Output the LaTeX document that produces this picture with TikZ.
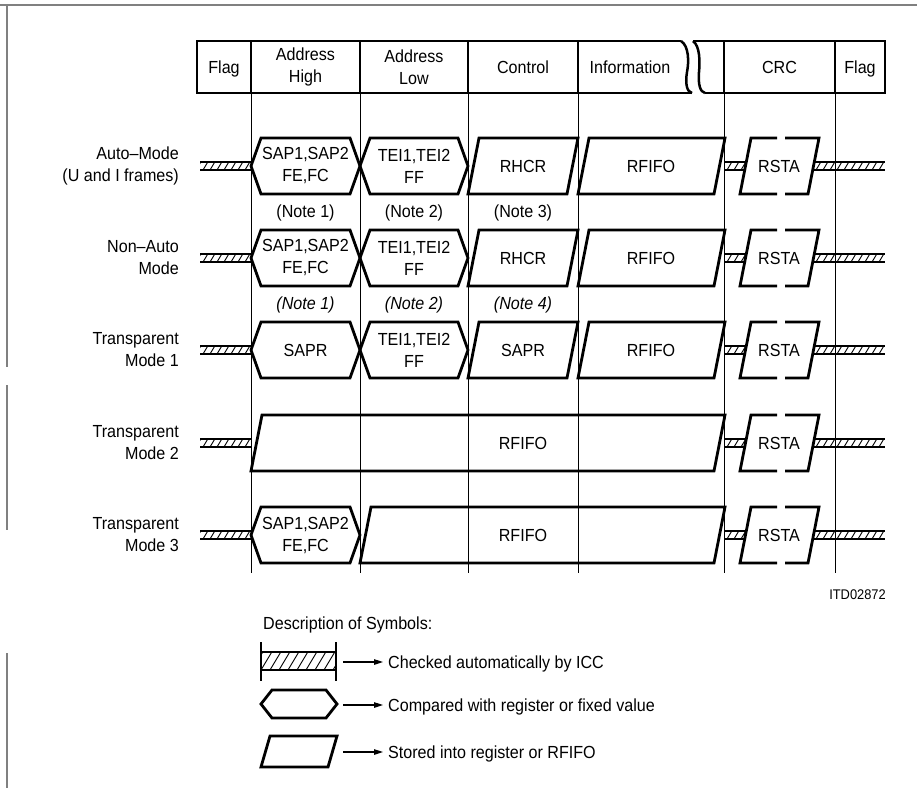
\documentclass[tikz,border=0pt]{standalone}
\usepackage{fontspec}
\setmainfont{Liberation Sans}[FakeStretch=0.92]
\usetikzlibrary{arrows.meta}
\tikzset{
  shp/.style={line width=2.8pt, line join=miter},
  hdr/.style={line width=2.5pt},
  grid/.style={line width=1pt},
  hatchl/.style={line width=0.9pt},
  bandl/.style={line width=2.2pt},
  lbl/.style={font=\fontsize{17.5}{22}\selectfont, align=center, inner sep=0pt},
  one/.style={lbl, text height=12.6pt, text depth=0pt},
  notei/.style={one, font=\fontsize{17.5}{22}\selectfont\itshape},
  frame/.style={gray, line width=1.3pt},
  legarrow/.style={line width=1.1pt, -{Triangle[length=9pt,width=5.5pt]}, shorten >=5pt}
}
% hatched band: x1, x2, yc, half height, spacing
\newcommand\myhband[5]{%
  \begin{scope}
    \clip (#1,#3-#4) rectangle (#2,#3+#4);
    \foreach \k in {0,...,20} {\draw[hatchl] ({#1+\k*#5-#4},#3+#4) -- ++({1.2*#4},{-2*#4});}
  \end{scope}
  \draw[bandl] (#1,#3-#4) -- (#2,#3-#4) (#1,#3+#4) -- (#2,#3+#4);}
% hexagon: x1, x2, yc
\newcommand\myhex[3]{%
  \draw[shp] (#1,#3) -- (#1+10,#3-28) -- (#2-10,#3-28) -- (#2,#3) -- (#2-10,#3+28) -- (#1+10,#3+28) -- cycle;}
% parallelogram: x1, x2, yc
\newcommand\mypar[3]{%
  \draw[shp] (#1,#3+28) -- (#1+11,#3-28) -- (#2,#3-28) -- (#2-11,#3+28) -- cycle;}
% RSTA with bands: yc, node name
\newcommand\mycrc[2]{%
  \myhband{724}{746}{#1}{4}{7}
  \myhband{813}{885}{#1}{4}{7}
  \draw[shp] (777,#1-28) -- (751,#1-28) -- (740,#1+28) -- (777,#1+28);
  \draw[shp] (785,#1-28) -- (819,#1-28) -- (808,#1+28) -- (785,#1+28);
  \node[one] (#2) at (779,#1) {RSTA};}

\begin{document}
\begin{tikzpicture}[x=1pt,y=-1pt]
\useasboundingbox (0,0) rectangle (917,788);

% outer frame pieces
\draw[frame] (0,5) -- (917,5);
\draw[frame] (7,5) -- (7,367) (7,385) -- (7,530) (7,653) -- (7,788);

% header
\draw[hdr] (681,41) -- (197,41) -- (197,93) -- (692,93);
\draw[hdr] (681,41) .. controls (689,46) and (689,62) .. (687,72) .. controls (685,84) and (687,92) .. (692,93);
\draw[hdr] (693,41) .. controls (700,46) and (700,62) .. (699,72) .. controls (698,84) and (700,92) .. (705,93);
\draw[hdr] (693,41) -- (885,41) -- (885,93) -- (705,93);
\foreach \x in {251,360,468,578,724,835} {\draw[hdr] (\x,41) -- (\x,93);}
\node[one] (hflag1) at (224,67) {Flag};
\node[lbl] (hah) at (305.5,67) {Address\\High};
\node[lbl] (hal) at (414,67) {Address\\Low};
\node[one] (hctl) at (523,67) {Control};
\node[one] (hinf) at (630,67) {Information};
\node[one] (hcrc) at (779.5,67) {CRC};
\node[one] (hflag2) at (860,67) {Flag};

% grid lines
\foreach \x in {251,360,468,578,724,835} {\draw[grid] (\x,93) -- (\x,573);}

% row labels
\node[lbl, align=right, anchor=east] (m1) at (179,166) {Auto–Mode\\(U and I frames)};
\node[lbl, align=right, anchor=east] (m2) at (179,258) {Non–Auto\\Mode};
\node[lbl, align=right, anchor=east] (m3) at (179,350) {Transparent\\Mode 1};
\node[lbl, align=right, anchor=east] (m4) at (179,443) {Transparent\\Mode 2};
\node[lbl, align=right, anchor=east] (m5) at (179,535) {Transparent\\Mode 3};

% left flag bands
\myhband{200}{251}{166}{4}{7}
\myhband{200}{251}{258}{4}{7}
\myhband{200}{251}{350}{4}{7}
\myhband{200}{251}{443}{4}{7}
\myhband{200}{251}{535}{4}{7}

% row 1
\myhex{251}{360}{166}
\myhex{360}{468}{166}
\mypar{468}{578}{166}
\mypar{578}{725}{166}
\node[lbl] (r1a) at (305.5,166) {SAP1,SAP2\\FE,FC};
\node[lbl] (r1b) at (414,166) {TEI1,TEI2\\FF};
\node[one] (r1c) at (523,166) {RHCR};
\node[one] (r1d) at (651,166) {RFIFO};
\mycrc{166}{r1e}
\node[one] (n11) at (305.5,211) {(Note 1)};
\node[one] (n12) at (414,211) {(Note 2)};
\node[one] (n13) at (523,211) {(Note 3)};

% row 2
\myhex{251}{360}{258}
\myhex{360}{468}{258}
\mypar{468}{578}{258}
\mypar{578}{725}{258}
\node[lbl] (r2a) at (305.5,258) {SAP1,SAP2\\FE,FC};
\node[lbl] (r2b) at (414,258) {TEI1,TEI2\\FF};
\node[one] (r2c) at (523,258) {RHCR};
\node[one] (r2d) at (651,258) {RFIFO};
\mycrc{258}{r2e}
\node[notei] (n21) at (305.5,303) {(Note 1)};
\node[notei] (n22) at (414,303) {(Note 2)};
\node[notei] (n24) at (523,303) {(Note 4)};

% row 3
\myhex{251}{360}{350}
\myhex{360}{468}{350}
\mypar{468}{578}{350}
\mypar{578}{725}{350}
\node[one] (r3a) at (305.5,350) {SAPR};
\node[lbl] (r3b) at (414,350) {TEI1,TEI2\\FF};
\node[one] (r3c) at (523,350) {SAPR};
\node[one] (r3d) at (651,350) {RFIFO};
\mycrc{350}{r3e}

% row 4
\mypar{251}{725}{443}
\node[one] (r4c) at (523,443) {RFIFO};
\mycrc{443}{r4e}

% row 5
\myhex{251}{360}{535}
\mypar{360}{725}{535}
\node[lbl] (r5a) at (305.5,535) {SAP1,SAP2\\FE,FC};
\node[one] (r5c) at (523,535) {RFIFO};
\mycrc{535}{r5e}

\node[anchor=east, inner sep=0pt, font=\fontsize{14}{16}\selectfont] (itd) at (886,595) {ITD02872};

% legend
\node[lbl, anchor=west] (desc) at (263,625) {Description of Symbols:};
\myhband{261}{336}{661}{9}{9}
\draw[shp] (261,642) -- (261,681) (336,642) -- (336,681);
\draw[shp] (261,704) -- (272,690) -- (326,690) -- (337,704) -- (326,718) -- (272,718) -- cycle;
\draw[shp] (261,767) -- (270,736) -- (337,736) -- (328,767) -- cycle;
\coordinate (la1) at (343,662);
\coordinate (la2) at (343,705);
\coordinate (la3) at (343,752);
\node[one, anchor=west] (lt1) at (388,662) {Checked automatically by ICC};
\node[one, anchor=west] (lt2) at (388,705) {Compared with register or fixed value};
\node[one, anchor=west] (lt3) at (388,752) {Stored into register or RFIFO};
\draw[legarrow] (la1) -- (lt1.west);
\draw[legarrow] (la2) -- (lt2.west);
\draw[legarrow] (la3) -- (lt3.west);
\end{tikzpicture}
\end{document}
